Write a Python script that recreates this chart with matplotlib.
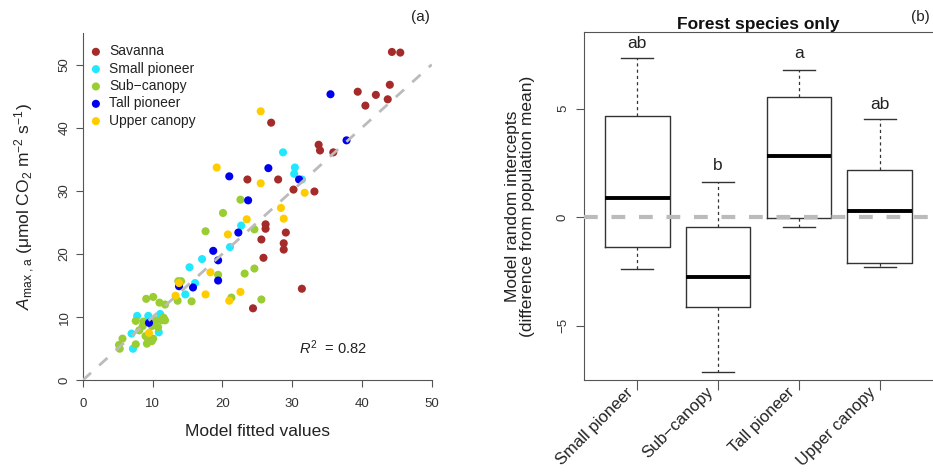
import matplotlib
matplotlib.use("Agg")
import matplotlib.pyplot as plt
from matplotlib.transforms import ScaledTranslation

plt.rcParams['font.family'] = ['Liberation Sans', 'DejaVu Sans']
plt.rcParams['mathtext.fontset'] = 'custom'
plt.rcParams['mathtext.rm'] = 'Liberation Sans'
plt.rcParams['mathtext.it'] = 'Liberation Sans:italic'
plt.rcParams['mathtext.bf'] = 'Liberation Sans:bold'

# ---------------- data: panel (a) ----------------
savanna_x = [44.3, 45.5, 44.0, 39.4, 42.0, 43.7, 40.5, 27.0, 33.8, 34.0, 35.9, 23.6,
             28.0, 30.2, 33.2, 26.2, 26.2, 29.1, 28.8, 28.8, 25.6, 25.9, 31.4, 24.4]
savanna_y = [52.0, 51.9, 46.8, 45.7, 45.2, 44.5, 43.5, 40.8, 37.3, 36.4, 36.1, 31.8,
             31.8, 30.2, 29.9, 24.7, 24.0, 23.4, 21.7, 20.7, 22.3, 19.4, 14.5, 11.4]

small_x = [28.7, 30.4, 30.3, 31.4, 22.7, 21.1, 17.1, 15.3, 16.1, 14.7, 7.8, 9.4,
           11.1, 7.0, 10.9, 7.2]
small_y = [36.1, 33.7, 32.7, 31.8, 24.5, 21.1, 19.2, 17.9, 15.4, 13.6, 10.2, 10.2,
           10.5, 7.4, 7.6, 5.0]

sub_x = [22.6, 20.1, 24.6, 17.6, 24.6, 23.2, 19.4, 14.1, 13.7, 21.3, 25.6, 15.6,
         13.6, 9.1, 10.1, 11.0, 11.8, 7.6, 8.7, 9.9, 10.8, 11.3, 11.8, 8.1,
         9.0, 9.4, 9.9, 9.2, 7.6, 5.7, 5.2, 5.3, 8.6, 10.5, 10.1, 11.6]
sub_y = [28.6, 26.5, 23.9, 23.6, 17.7, 16.9, 16.7, 15.7, 15.7, 13.1, 12.8, 12.5,
         12.6, 12.9, 13.2, 12.3, 12.0, 9.4, 9.3, 8.6, 8.4, 9.5, 9.5, 7.9,
         7.0, 6.3, 6.2, 5.8, 5.7, 6.6, 5.6, 5.0, 8.6, 9.5, 6.6, 9.9]

tall_x = [35.5, 37.8, 26.6, 21.0, 31.0, 23.7, 22.3, 18.7, 19.4, 19.4, 13.8, 15.8, 9.5]
tall_y = [45.3, 38.0, 33.6, 32.3, 31.8, 28.5, 23.4, 20.5, 19.0, 15.8, 14.9, 14.7, 9.1]

upper_x = [25.5, 19.2, 25.5, 31.8, 28.4, 28.8, 23.5, 20.8, 18.3, 13.8, 13.3, 17.6,
           22.6, 21.0, 9.5]
upper_y = [42.6, 33.7, 31.2, 29.7, 27.3, 25.6, 25.5, 23.1, 17.1, 15.4, 13.4, 13.6,
           14.0, 12.6, 7.5]

group_names = ["Savanna", "Small pioneer", "Sub\u2212canopy", "Tall pioneer", "Upper canopy"]
group_colors = ["#A52A2A", "#22E8FF", "#9ACD32", "#0000EE", "#FFCC00"]

r2_label = "$R^2$  = 0.82"

# ---------------- data: panel (b) ----------------
box_names = ["Small pioneer", "Sub\u2212canopy", "Tall pioneer", "Upper canopy"]
box_whislo = [-2.39, -7.10, -0.45, -2.27]
box_q1 = [-1.35, -4.11, -0.05, -2.12]
box_med = [0.90, -2.73, 2.82, 0.28]
box_q3 = [4.68, -0.43, 5.55, 2.19]
box_whishi = [7.34, 1.64, 6.76, 4.51]
letters = ["ab", "b", "a", "ab"]
letter_y = [8.0, 2.37, 7.55, 5.2]

# ---------------- figure ----------------
W, H = 933, 473
fig = plt.figure(figsize=(W / 100, H / 100), dpi=100)

def frac(x0, y0, x1, y1):
    return [x0 / W, 1 - y1 / H, (x1 - x0) / W, (y1 - y0) / H]

spine_col = "#555555"

# ---- panel (a)
ax1 = fig.add_axes(frac(82.7, 33, 431.7, 380.3))
groups = [
    (savanna_x, savanna_y), (small_x, small_y), (sub_x, sub_y),
    (tall_x, tall_y), (upper_x, upper_y),
]
for (gx, gy), name, col in zip(groups, group_names, group_colors):
    ax1.scatter(gx, gy, s=34, color=col, edgecolors='none', label=name, zorder=3)
ax1.plot([0, 50], [0, 50], color="#BBBBBB", lw=2.0, ls=(0, (4, 4)), zorder=4)
ax1.set_xlim(0, 50)
ax1.set_ylim(0, 55)
ax1.spines['top'].set_visible(False)
ax1.spines['right'].set_visible(False)
ax1.spines['left'].set_bounds(0, 55)
ax1.spines['bottom'].set_bounds(0, 50)
for s in ['left', 'bottom']:
    ax1.spines[s].set_color(spine_col)
ax1.set_xticks([0, 10, 20, 30, 40, 50])
ax1.set_yticks([0, 10, 20, 30, 40, 50])
ax1.tick_params(axis='x', direction='out', length=5, width=0.8, color=spine_col,
                labelsize=9.5, labelcolor="#333333", pad=8)
ax1.tick_params(axis='y', direction='out', length=5, width=0.8, color=spine_col,
                labelsize=9.5, labelcolor="#333333", pad=3.8)
for lab in ax1.get_yticklabels():
    lab.set_rotation(90)
    lab.set_va('center')
ax1.set_xlabel("Model fitted values", fontsize=12.5, color="#222222", va='center')
ax1.xaxis.set_label_coords(0.5, -51.4 / 347.3)
ax1.set_ylabel(r"$A_{\mathrm{max\ ,a}}$ ($\mathrm{\mu}$mol CO$_2$ m$^{-2}$ s$^{-1}$)",
               fontsize=12.5, color="#222222", va='center')
ax1.yaxis.set_label_coords(-57.7 / 349, 0.5)
leg = ax1.legend(loc='upper left', bbox_to_anchor=(-0.01, 0.995), frameon=False,
                 fontsize=10, handletextpad=0.45, labelspacing=0.24, borderpad=0.2,
                 handlelength=1.0, markerscale=1.0)
for t in leg.get_texts():
    t.set_color("#222222")
ax1.text(31.0, 5.1, r2_label, fontsize=10.5, color="#222222", va='center', ha='left')

# ---- panel (b)
ax2 = fig.add_axes(frac(584, 32, 933, 380))
stats = []
for i in range(len(box_names)):
    stats.append(dict(label=box_names[i], med=box_med[i], q1=box_q1[i], q3=box_q3[i],
                      whislo=box_whislo[i], whishi=box_whishi[i], fliers=[]))
ax2.bxp(stats, positions=[1, 2, 3, 4], widths=0.8, showfliers=False,
        boxprops=dict(color="#333333", lw=1.0),
        whiskerprops=dict(color="#333333", lw=0.9, ls=(0, (2.5, 2.5))),
        capprops=dict(color="#333333", lw=1.0),
        medianprops=dict(color="black", lw=2.8, solid_capstyle='butt'),
        capwidths=0.4, zorder=2)
ax2.axhline(0, color="#BBBBBB", lw=3.0, ls=(0, (3.3, 3.3)), zorder=5)
ax2.set_xlim(0.34, 4.66)
ax2.set_ylim(-7.49, 8.53)
ax2.set_yticks([-5, 0, 5])
ax2.set_yticklabels(["\u22125", "0", "5"])
ax2.set_xticks([1, 2, 3, 4])
ax2.set_xticklabels(box_names)
for s in ['left', 'bottom', 'top']:
    ax2.spines[s].set_color(spine_col)
ax2.spines['right'].set_visible(False)
ax2.tick_params(axis='y', direction='out', length=6, width=0.8, color=spine_col,
                labelsize=9.5, labelcolor="#333333", pad=4.8)
ax2.tick_params(axis='x', direction='out', length=7, width=0.8, color=spine_col,
                labelsize=12, labelcolor="#222222", pad=0)
for lab in ax2.get_yticklabels():
    lab.set_rotation(90)
    lab.set_va('center')
shift = ScaledTranslation(-12 / 100, 5 / 100, fig.dpi_scale_trans)
for lab in ax2.get_xticklabels():
    lab.set_rotation(45)
    lab.set_ha('right')
    lab.set_va('top')
    lab.set_rotation_mode('anchor')
    lab.set_transform(lab.get_transform() + shift)
ax2.set_ylabel("Model random intercepts\n(difference from population mean)",
               fontsize=12.5, color="#222222", va='center', linespacing=1.05)
ax2.yaxis.set_label_coords(-64 / 349, 0.5)
for i, (lt, ly) in enumerate(zip(letters, letter_y)):
    ax2.text(i + 1, ly, lt, ha='center', va='center', fontsize=12.5, color="#222222")
ax2.set_title("Forest species only", fontsize=12.5, fontweight='bold', pad=1,
              color="#111111")

fig.text(420 / W, 1 - 17 / H, "(a)", fontsize=11, ha='center', va='center', color="#222222")
fig.text(920 / W, 1 - 17 / H, "(b)", fontsize=11, ha='center', va='center', color="#222222")

fig.savefig("out.png", dpi=100)
